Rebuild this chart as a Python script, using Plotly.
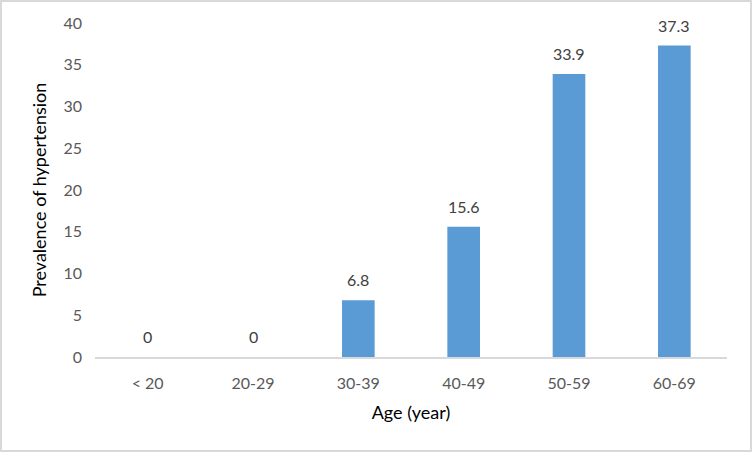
import plotly.graph_objects as go

categories = ["< 20", "20-29", "30-39", "40-49", "50-59", "60-69"]
prevalence = [0, 0, 6.8, 15.6, 33.9, 37.3]
value_labels = ["0", "0", "6.8", "15.6", "33.9", "37.3"]
y_ticks = [0, 5, 10, 15, 20, 25, 30, 35, 40]

W, H = 752, 452
ML, MR, MT, MB = 95, 25, 23, 95
pw, ph = W - ML - MR, H - MT - MB
FONT = "Lato, Calibri, 'Open Sans', sans-serif"

fig = go.Figure()
fig.add_trace(go.Bar(
    x=categories, y=prevalence,
    marker=dict(color="#5B9BD5", line=dict(width=0)),
    hoverinfo="x+y",
))

for c, v, t in zip(categories, prevalence, value_labels):
    fig.add_annotation(x=c, y=v, text=t, showarrow=False, yanchor="bottom",
                       yshift=9, font=dict(family=FONT, size=16, color="#404040"))

# outer chart border
fig.add_shape(type="rect", xref="paper", yref="paper",
              x0=(-ML + 1) / pw, x1=(W - ML - 1) / pw,
              y0=(-MB + 1) / ph, y1=(H - MB - 1) / ph,
              line=dict(color="#D9D9D9", width=2), layer="below")

fig.update_layout(
    width=W, height=H,
    margin=dict(l=ML, r=MR, t=MT, b=MB),
    paper_bgcolor="white", plot_bgcolor="white",
    bargap=0.69, showlegend=False,
    font=dict(family=FONT, color="#595959", size=16),
    xaxis=dict(
        showline=True, linecolor="#D9D9D9", linewidth=2,
        ticks="", showgrid=False, zeroline=False, ticklabelstandoff=11,
        tickfont=dict(family=FONT, size=16, color="#595959"),
        title=dict(text="Age (year)", font=dict(family=FONT, size=18, color="black"), standoff=15),
    ),
    yaxis=dict(
        range=[0, 40], tickvals=y_ticks, showgrid=False, zeroline=False,
        showline=False, ticks="", ticklabelstandoff=12,
        tickfont=dict(family=FONT, size=16, color="#595959"),
        title=dict(text="Prevalence of hypertension", font=dict(family=FONT, size=18, color="black"), standoff=12),
    ),
)

fig.write_html("out.html", config={"displayModeBar": False},
               post_script="document.body.style.margin='0';")
